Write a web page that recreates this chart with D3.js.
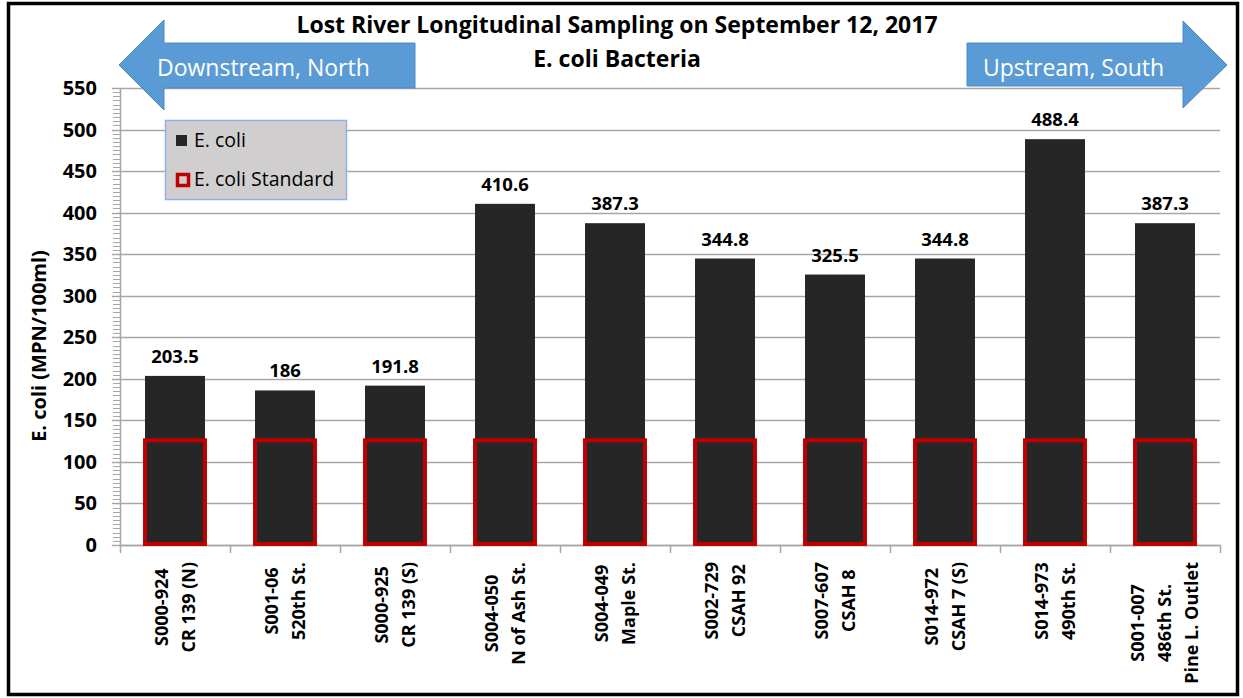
<!DOCTYPE html>
<html>
<head>
<meta charset="utf-8">
<script src="https://cdn.jsdelivr.net/npm/d3@7"></script>
<style>
  body { margin: 0; background: #fff; }
  text { font-family: "Open Sans", Lato, sans-serif; }
</style>
</head>
<body>
<svg id="chart"></svg>
<script>
// data
const sites = [
  ["S000-924", "CR 139 (N)"],
  ["S001-06", "520th St."],
  ["S000-925", "CR 139 (S)"],
  ["S004-050", "N of Ash St."],
  ["S004-049", "Maple St."],
  ["S002-729", "CSAH 92"],
  ["S007-607", "CSAH 8"],
  ["S014-972", "CSAH 7 (S)"],
  ["S014-973", "490th St."],
  ["S001-007", "486th St.", "Pine L. Outlet"]
];
const ecoli = [203.5, 186, 191.8, 410.6, 387.3, 344.8, 325.5, 344.8, 488.4, 387.3];
const standard = 126;
const yTicks = [0, 50, 100, 150, 200, 250, 300, 350, 400, 450, 500, 550];
const seriesNames = ["E. coli", "E. coli Standard"];
const titleLines = ["Lost River Longitudinal Sampling on September 12, 2017", "E. coli Bacteria"];
const arrowLabels = ["Downstream, North", "Upstream, South"];

function makeChart() {
  let w = 1243;
  let h = 698;

  let marginL = 120;
  let marginR = 23;
  let plotTop = 88;
  let plotBottom = 545;

  let barColor = '#262626';
  let red = '#c00000';
  let grid = '#a6a6a6';

  let chart = d3.select('#chart')
    .attr('width', w)
    .attr('height', h);

  chart.append('rect')
    .attr('width', w).attr('height', h)
    .attr('fill', '#fff');

  let xScale = d3.scaleBand()
    .domain(d3.range(sites.length))
    .range([marginL, w - marginR])
    .padding(0);

  let yScale = d3.scaleLinear()
    .domain([0, d3.max(yTicks)])
    .range([plotBottom, plotTop]);

  let barW = xScale.bandwidth() * 0.545;

  // gridlines
  chart.append('g')
    .selectAll('line')
    .data(yTicks)
    .enter()
    .append('line')
    .attr('x1', marginL - 8)
    .attr('x2', w - marginR)
    .attr('y1', d => Math.round(yScale(d)) + 0.5)
    .attr('y2', d => Math.round(yScale(d)) + 0.5)
    .attr('stroke', grid)
    .attr('stroke-width', 1.5);

  // minor ticks every 5
  chart.append('g')
    .selectAll('line')
    .data(d3.range(0, d3.max(yTicks), 5))
    .enter()
    .append('line')
    .attr('x1', marginL - 7)
    .attr('x2', marginL)
    .attr('y1', d => Math.round(yScale(d)) + 0.5)
    .attr('y2', d => Math.round(yScale(d)) + 0.5)
    .attr('stroke', grid)
    .attr('stroke-width', 1);

  // y axis line
  chart.append('line')
    .attr('x1', marginL + 0.5).attr('x2', marginL + 0.5)
    .attr('y1', plotTop).attr('y2', plotBottom)
    .attr('stroke', grid)
    .attr('stroke-width', 1.5);

  // x axis
  let xAxis = d3.axisBottom(xScale).tickSize(0).tickFormat('');
  chart.append('g')
    .attr('transform', `translate(0, ${plotBottom})`)
    .call(xAxis)
    .call(g => g.select('.domain').attr('stroke', grid).attr('stroke-width', 1.5));

  chart.append('g')
    .selectAll('line')
    .data(d3.range(sites.length + 1))
    .enter()
    .append('line')
    .attr('x1', d => Math.round(marginL + d * xScale.step()) + 0.5)
    .attr('x2', d => Math.round(marginL + d * xScale.step()) + 0.5)
    .attr('y1', plotBottom)
    .attr('y2', plotBottom + 8)
    .attr('stroke', grid)
    .attr('stroke-width', 1.5);

  // y tick labels
  chart.append('g')
    .selectAll('text')
    .data(yTicks)
    .enter()
    .append('text')
    .attr('x', 97)
    .attr('y', d => yScale(d))
    .attr('dy', '0.35em')
    .attr('text-anchor', 'end')
    .style('font-size', '20px')
    .style('font-weight', 'bold')
    .text(d => d);

  // E. coli bars
  chart.append('g')
    .selectAll('rect')
    .data(ecoli)
    .enter()
    .append('rect')
    .attr('x', (d, i) => xScale(i) + (xScale.bandwidth() - barW) / 2)
    .attr('y', d => yScale(d))
    .attr('width', barW)
    .attr('height', d => yScale(0) - yScale(d))
    .attr('fill', barColor);

  // standard bars
  chart.append('g')
    .selectAll('rect')
    .data(ecoli)
    .enter()
    .append('rect')
    .attr('x', (d, i) => xScale(i) + (xScale.bandwidth() - barW) / 2)
    .attr('y', yScale(standard))
    .attr('width', barW)
    .attr('height', yScale(0) - yScale(standard) - 1)
    .attr('fill', barColor)
    .attr('stroke', red)
    .attr('stroke-width', 4);

  // value labels
  chart.append('g')
    .selectAll('text')
    .data(ecoli)
    .enter()
    .append('text')
    .attr('x', (d, i) => xScale(i) + xScale.bandwidth() / 2)
    .attr('y', d => yScale(d) - 13)
    .attr('text-anchor', 'middle')
    .style('font-size', '18.5px')
    .style('font-weight', 'bold')
    .text(d => d);

  // category labels, rotated
  let lineGap = 27;
  let labelTop = 562;
  sites.forEach((lines, i) => {
    let cx = xScale(i) + xScale.bandwidth() / 2;
    let g = chart.append('g');
    let texts = lines.map((t, j) => g.append('text')
      .style('font-size', '18px')
      .style('font-weight', 'bold')
      .attr('text-anchor', 'middle')
      .attr('dy', '0.35em')
      .text(t));
    let maxLen = d3.max(texts, t => t.node().getComputedTextLength());
    let yc = labelTop + maxLen / 2;
    texts.forEach((t, j) => {
      let lx = cx + (j - (lines.length - 1) / 2) * lineGap;
      t.attr('transform', `translate(${lx}, ${yc}) rotate(-90)`);
    });
  });

  // y axis title
  chart.append('text')
    .attr('transform', 'translate(39, 346) rotate(-90)')
    .attr('text-anchor', 'middle')
    .attr('dy', '0.35em')
    .style('font-size', '20px')
    .style('font-weight', 'bold')
    .text('E. coli (MPN/100ml)');

  // title
  chart.append('g')
    .selectAll('text')
    .data(titleLines)
    .enter()
    .append('text')
    .attr('x', 617)
    .attr('y', (d, i) => 33 + i * 34)
    .attr('text-anchor', 'middle')
    .style('font-size', '23px')
    .style('font-weight', 'bold')
    .text(d => d);

  // direction arrows
  let arrowFill = '#5b9bd5';
  let arrowStroke = '#4f88c0';
  let leftArrow = [[119, 65], [164, 20], [164, 43], [415, 43], [415, 88], [164, 88], [164, 110]];
  let rightArrow = [[967, 43], [1183, 43], [1183, 21], [1227, 65], [1183, 108], [1183, 86], [967, 86]];
  chart.append('g')
    .selectAll('path')
    .data([leftArrow, rightArrow])
    .enter()
    .append('path')
    .attr('d', d => d3.line()(d) + 'Z')
    .attr('fill', arrowFill)
    .attr('stroke', arrowStroke)
    .attr('stroke-width', 1);

  chart.append('g')
    .selectAll('text')
    .data(arrowLabels)
    .enter()
    .append('text')
    .attr('x', (d, i) => i == 0 ? 157 : 983)
    .attr('y', 76)
    .attr('fill', '#fff')
    .style('font-size', '23px')
    .text(d => d);

  // legend
  let legend = chart.append('g');
  legend.append('rect')
    .attr('x', 165.5).attr('y', 120.5)
    .attr('width', 181).attr('height', 79)
    .attr('fill', '#d0cece')
    .attr('stroke', '#8db4e2')
    .attr('stroke-width', 1.5);

  legend.selectAll('.item')
    .data(seriesNames)
    .enter()
    .append('text')
    .attr('class', 'item')
    .attr('x', 194)
    .attr('y', (d, i) => 147 + i * 39)
    .style('font-size', '19.5px')
    .text(d => d);

  legend.append('rect')
    .attr('x', 176).attr('y', 135)
    .attr('width', 11).attr('height', 11)
    .attr('fill', barColor);

  legend.append('rect')
    .attr('x', 177.5).attr('y', 174.5)
    .attr('width', 11).attr('height', 11)
    .attr('fill', '#d0cece')
    .attr('stroke', red)
    .attr('stroke-width', 3.5);

  // outer frame
  chart.append('rect')
    .attr('x', 8.5).attr('y', 3.5)
    .attr('width', 1229).attr('height', 691)
    .attr('fill', 'none')
    .attr('stroke', '#000')
    .attr('stroke-width', 3.5);
}

window.onload = function () {
  makeChart();
};
</script>
</body>
</html>
